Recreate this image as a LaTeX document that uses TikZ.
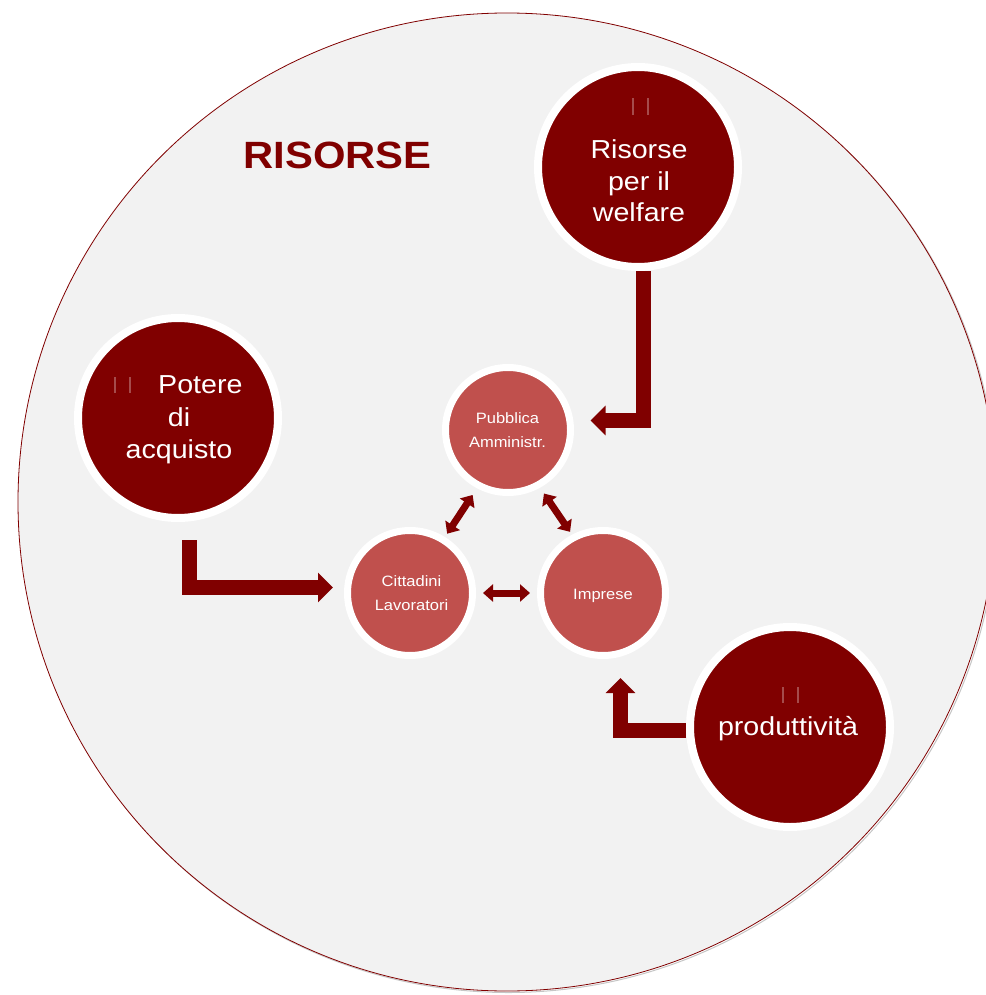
\documentclass[tikz,border=0pt]{standalone}
\usepackage{fontspec}
\setmainfont[FakeStretch=1.1]{Liberation Sans}
\usetikzlibrary{arrows.meta}
\definecolor{maroon}{RGB}{128,0,0}
\definecolor{softred}{RGB}{192,80,77}
\definecolor{panel}{RGB}{242,242,242}
\definecolor{barmark}{RGB}{165,75,75}

\begin{document}
\begin{tikzpicture}[x=1pt,y=-1pt,
  bigdot/.style={circle, fill=maroon, draw=white, line width=8pt, minimum size=200pt, inner sep=0pt},
  smalldot/.style={circle, fill=softred, draw=white, line width=7pt, minimum size=125pt, inner sep=0pt},
  bigtext/.style={text=white, font=\fontsize{26}{31.5}\selectfont, align=center, inner sep=0pt},
  smalltext/.style={text=white, font=\fontsize{15}{23.5}\selectfont, align=center, inner sep=0pt},
  elbow/.style={draw=maroon, line width=15pt, line join=miter, -{Triangle[length=15pt,width=29pt]}},
  link/.style={draw=maroon, line width=7pt, {Triangle[length=10pt,width=17pt]}-{Triangle[length=10pt,width=17pt]}},
  ghostbar/.style={draw=barmark, line width=2pt},
]
\useasboundingbox (0,0) rectangle (985,995);

% outer panel with a faint drop shadow
\draw[gray!45, line width=1pt] (508.5,503.5) circle (489pt);
\draw[maroon, line width=0.8pt, fill=panel] (507,502) circle (489pt);

% title
\node[font=\fontsize{38}{40}\selectfont\bfseries, text=maroon, anchor=base, inner sep=0pt] (title) at (337.5,168) {RISORSE};

% outer resource circles
\node[bigdot] (welfare) at (638,167) {};
\node[bigdot] (acquisto) at (178,418) {};
\node[bigdot] (prod) at (790,727) {};

% inner actors
\node[smalldot] (pa) at (508,430) {};
\node[smalldot] (citt) at (410,593) {};
\node[smalldot] (imp) at (603,593) {};

% elbow arrows feeding the actors
\coordinate (k1) at (643.5,420.5);
\coordinate (k2) at (189.5,587.5);
\coordinate (k3) at (620.5,730.5);
\draw[elbow, shorten >=16.5pt] (k1 |- welfare.south) -- (k1) -- (k1 -| pa.east);
\draw[elbow, shorten <=18pt, shorten >=11pt] (k2 |- acquisto.south) -- (k2) -- (k2 -| citt.west);
\draw[elbow, shorten >=19pt] (k3 -| prod.west) -- (k3) -- (k3 |- imp.south);

% exchanges between the actors
\draw[link, shorten <=8pt, shorten >=4pt] (pa.242) -- (citt.58);
\draw[link, shorten <=7pt, shorten >=3.5pt] (pa.299) -- (imp.118);
\draw[link, shorten <=7pt, shorten >=7pt] (citt.east) -- (imp.west);

% labels (multi-line nodes sit on the baseline of their last line)
\node[bigtext, anchor=base] (welfaretxt) at (639,222) {Risorse\\per il\\welfare};
\node[bigtext, anchor=base west] (poteretxt) at (158,393) {Potere};
\node[bigtext, anchor=base] (acqtxt) at (179,458) {di\\acquisto};
\node[bigtext, anchor=base] (prodtxt) at (788,735) {produttività};
\node[smalltext, anchor=base] (patxt) at (507.5,447) {Pubblica\\Amministr.};
\node[smalltext, anchor=base] (citttxt) at (411.5,610) {Cittadini\\Lavoratori};
\node[smalltext, anchor=base] (imptxt) at (603,599) {Imprese};

% bullet marks
\draw[ghostbar] (633,98) -- (633,115);
\draw[ghostbar] (648,98) -- (648,115);
\draw[ghostbar] (115,377) -- (115,393);
\draw[ghostbar] (130,377) -- (130,393);
\draw[ghostbar] (783,687) -- (783,703);
\draw[ghostbar] (798,687) -- (798,703);
\end{tikzpicture}
\end{document}
